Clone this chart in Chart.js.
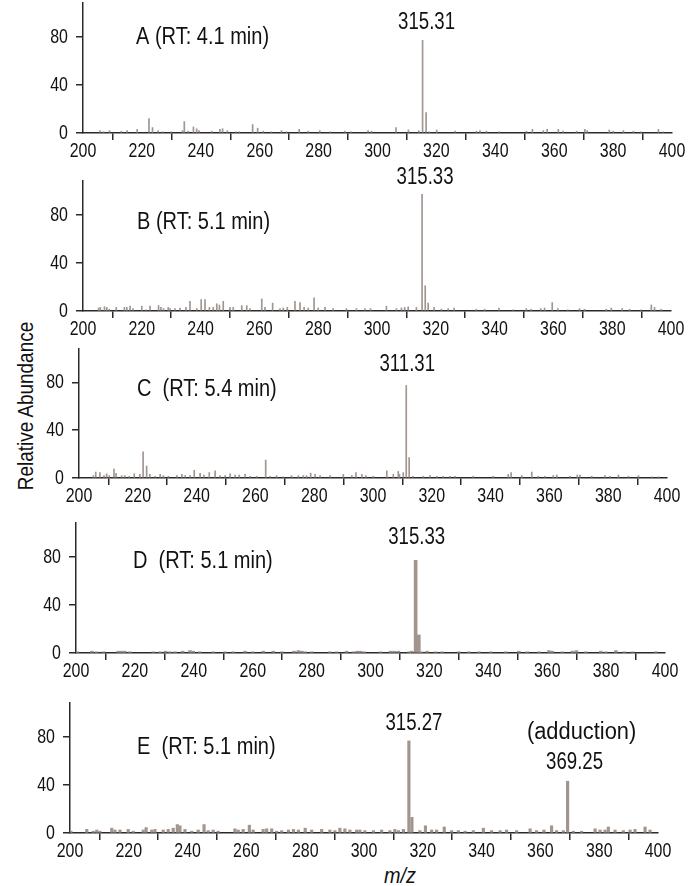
<!DOCTYPE html>
<html>
<head>
<meta charset="utf-8">
<script src="https://cdn.jsdelivr.net/npm/chart.js@4.4.1/dist/chart.umd.min.js"></script>
<style>
  html, body { margin: 0; padding: 0; background: #fff; }
  body { width: 696px; height: 886px; position: relative; overflow: hidden; }
  canvas { position: absolute; left: 0; }
  .axis-title {
    position: absolute; color: #111; white-space: nowrap;
    font-family: 'Liberation Sans', Arial, sans-serif;
    font-size: 22px; line-height: 1;
  }
  #ytitle { left: 26px; top: 406px; transform: translate(-50%, -50%) rotate(-90deg) scaleX(0.86); }
  #xtitle { left: 400px; top: 876px; transform: translate(-50%, -50%) scaleX(0.9); font-style: italic; }
</style>
</head>
<body>
<div id="ytitle" class="axis-title">Relative Abundance</div>
<div id="xtitle" class="axis-title">m/z</div>
<script>
const FONT = "'Liberation Sans', Arial, sans-serif";
const INK = '#111';
const AXIS = '#2a2a2a';
const BAR = '#a1958e';

const mzMin = 200, mzMax = 400, mzStep = 20;
const yTicks = [0, 40, 80];
const yMax = 108;

// [m/z, relative abundance]
const baseA = [315.31, 77];
const peaksA = [
  [205.8, 2], [207, 1], [209, 2], [213, 1.5], [215, 2], [218.4, 3], [222.4, 12], [223.6, 4.5],
  [225.5, 2], [227, 1], [230, 1], [233.8, 2], [234.4, 9.5], [235.7, 1.5], [237.5, 5], [238.6, 3.5],
  [239.4, 2], [243.7, 1.5], [246.5, 3], [247.4, 3.5], [249, 2], [251.9, 1], [253, 1], [257.6, 7],
  [259.3, 4], [261.2, 1.5], [264, 1], [267.4, 2], [269.1, 1], [273.4, 3], [276.5, 1.5], [280.4, 2],
  [284, 1], [288.9, 1.5], [291, 1], [296.8, 2], [298, 1.5], [306.3, 4.5], [310.5, 2.5], [314, 2],
  baseA, [316.5, 17], [317.6, 1], [320.1, 2.5], [326.3, 1.5], [333.6, 1.5], [334.8, 2], [337, 1.5],
  [341.3, 1], [350.6, 1.5], [352.6, 3], [356.3, 2], [357.6, 3], [361.4, 3], [363, 1.5], [367.6, 1.5],
  [370.4, 3], [371.2, 2], [378.7, 2.5], [380.1, 1.5], [383.5, 2], [386.9, 1.5], [389.5, 1], [395.4, 3],
  [397, 1]
];

const baseB = [315.33, 97];
const peaksB = [
  [205.3, 2.5], [205.9, 3], [207.3, 3.5], [208.1, 3], [209, 1.5], [211.3, 3], [214.1, 3], [214.9, 3],
  [216, 4], [217, 2], [220, 4], [221.4, 1], [222.8, 4], [225.7, 4.5], [226.5, 3], [227.4, 2],
  [229, 3], [229.6, 2], [231.3, 2], [233, 2.5], [235, 3], [236.4, 8], [238.7, 2], [240.2, 9.5],
  [241.5, 9.5], [243, 3], [244.3, 3], [245.5, 6], [246.4, 5], [247.7, 8], [250, 3], [251.1, 3],
  [254, 4.5], [255.7, 4.5], [256.8, 2], [260.8, 10], [261.9, 3], [264.5, 6.5], [267, 2], [268.1, 2.5],
  [269.5, 3], [272.1, 8], [273.8, 7], [275.2, 3], [276.6, 2.5], [278.6, 11], [280, 2.5], [282.3, 3],
  [285.1, 2], [289.6, 2], [293, 2], [295.9, 2], [297.8, 2], [303.2, 4], [306.6, 2], [308.3, 2.5],
  [309.4, 3], [310.6, 3.5], [313.4, 3], baseB, [316.4, 21], [317.4, 6.5], [319.4, 3], [321.9, 1.5],
  [324.2, 2], [326.2, 2.5], [333.8, 1.5], [336.6, 1.5], [341.5, 2.5], [346.3, 1], [350.8, 2], [352.5, 1.5],
  [355.7, 2], [357, 2.5], [359.6, 7], [361.5, 2], [364.9, 1], [368.9, 2], [370.6, 1.5], [378, 1.5],
  [379.7, 2.5], [383.4, 2], [385.9, 1.5], [389.9, 1], [393.3, 5], [394.4, 3], [396.7, 1.5]
];

const baseC = [311.31, 77.5];
const peaksC = [
  [204.9, 2], [205.7, 5], [207.1, 4.5], [208.5, 2], [209.4, 3.5], [210.3, 2], [211.9, 7.5], [212.6, 4],
  [214.5, 2], [215.6, 2], [217.1, 1.5], [218.8, 3.5], [220.7, 3], [221.8, 22], [223, 10], [224.1, 3],
  [225.9, 1.5], [227.6, 3], [228.7, 2], [230.4, 1.5], [233.3, 2], [235, 3], [236.1, 2], [237.8, 2],
  [239.2, 6.5], [241.2, 4], [242.5, 2.5], [244.3, 4.5], [246.3, 6], [248, 2], [249.7, 2], [251.4, 3.5],
  [253.1, 2.5], [254.5, 2.5], [256.5, 3], [258.2, 1.5], [260.4, 1.5], [263.5, 15], [265, 1.5], [267.2, 2],
  [269.5, 1], [272.3, 2], [274.6, 2], [276.3, 2], [277.4, 2], [278.8, 4], [280.3, 3], [282, 2],
  [285.4, 2], [289.9, 3], [292.8, 2], [294.2, 4.5], [296.2, 3], [297.6, 2], [300.1, 1.5], [304.7, 6],
  [306.9, 3], [308.6, 5.5], [309, 3], [310.3, 4.5], baseC, [312.3, 17], [313.6, 1.5], [317.1, 1.5],
  [319.4, 2], [321.7, 1.5], [323.9, 1.5], [326.2, 1.5], [327.9, 1.5], [334.1, 1.5], [340.9, 1.5], [346, 3],
  [347, 4.5], [350.6, 2], [354, 5], [356.2, 1.5], [358.5, 1.5], [361.3, 2], [362.5, 2.5], [367, 1.5],
  [369.5, 2.5], [370.4, 2.5], [374.4, 1.5], [378.9, 2], [380.6, 1.5], [383.5, 2.5], [386.9, 1.5], [390.3, 2],
  [394.8, 1], [397.1, 1]
];

const baseD = [315.33, 77];
const peaksD = [
  [200.5, 1], [205.4, 1.5], [207, 1], [209.3, 1], [214.4, 1.5], [215.5, 1.5], [216.6, 1.5], [218.3, 1],
  [226.3, 1], [228.5, 1], [230.4, 1.5], [231.9, 1], [233.6, 1], [236.2, 1.5], [238.7, 2], [239.8, 1.5],
  [242.1, 1], [246.6, 1], [250.6, 1], [253.4, 1], [257.4, 1.5], [260, 1], [263.6, 1.5], [267, 1.5],
  [269.9, 1], [274, 1.5], [275.5, 2], [276.7, 1.5], [277.8, 1], [280, 1], [286.2, 1], [288.5, 1],
  [291.9, 1.5], [294.2, 1], [295.5, 1.5], [296.6, 1.5], [297.8, 1], [303.4, 1], [306.8, 1.5], [308, 1.5],
  [309.4, 1.5], [313.1, 1], [314, 1.5], baseD, [316.4, 15], [317.3, 1], [319.2, 1.5], [322.1, 1],
  [324.3, 1], [330, 1], [333.4, 1], [336.8, 1], [340.8, 1], [345.9, 1], [350.4, 1.5], [353.2, 1],
  [357.2, 1], [360.6, 2], [361.7, 1.5], [365.1, 1], [368.5, 1.5], [369.9, 2], [373.1, 1], [378.2, 1.5],
  [379.9, 1], [383.3, 2], [386.2, 1], [389, 1], [396.9, 1]
];

const baseE = [315.27, 76.5];
const adductE = [369.25, 43];
const peaksE = [
  [200.3, 1.5], [205.7, 3], [207.9, 1.5], [209.1, 2.5], [210.2, 1.5], [214.2, 4], [215.3, 2.5], [217, 2.5],
  [219.8, 3], [221.5, 1.5], [224.9, 2.5], [225.9, 4.5], [227.8, 2.5], [228.9, 3], [231.7, 2.5], [233.4, 3],
  [235.1, 4], [236.5, 7], [237.4, 6], [239.1, 3], [241.4, 1.5], [243.6, 2.5], [245.6, 7], [247, 2],
  [248.7, 2.5], [250.4, 1.5], [256.1, 3.5], [257.2, 2.5], [258.9, 3], [261, 6.5], [262.3, 2.5], [265.7, 3],
  [266.9, 3.5], [268.6, 3.5], [270.3, 1.5], [272, 2], [274.3, 2.5], [276, 3], [277.7, 2.5], [280, 4],
  [282.2, 2.5], [285.6, 3], [288.4, 2.5], [290.1, 2], [291.8, 4], [293.5, 3.5], [295.2, 2.5], [297.5, 2.5],
  [298.6, 2.5], [300.3, 2], [303.2, 2], [306, 2.5], [308.8, 2], [310.5, 3], [311.7, 2], [313.4, 3],
  baseE, [316.3, 13], [319, 2], [320.9, 6], [323, 2.5], [324.7, 2.5], [327.3, 5], [329.8, 2],
  [332.1, 2], [334.4, 1.5], [337.2, 2], [340.6, 4], [343.4, 2], [346.3, 2], [348.5, 2.5], [351.9, 2],
  [356.5, 3.5], [358.7, 2], [361.2, 2.5], [363.8, 6], [365.5, 2], [367.8, 2], adductE, [371.2, 1.5],
  [374, 1.5], [378.6, 3.5], [380.3, 2.5], [382, 2.5], [383.1, 5], [385.4, 2.5], [388.2, 2], [390.5, 2.5],
  [392.2, 3], [395.6, 5], [397.3, 2.5]
];

// layout of each stacked spectrum: plot area edges in page pixels
const panels = [
  { peaks: peaksA, bar: 1, area: { left: 83, top: 3, right: 672, bottom: 133 },
    title: 'A (RT: 4.1 min)', titleDx: 53, titleDy: 1,
    notes: [{ peak: baseA, dx: 4, dy: 18 }] },
  { peaks: peaksB, bar: 1, area: { left: 83, top: 181, right: 671, bottom: 311 },
    title: 'B (RT: 5.1 min)', titleDx: 54, titleDy: 8,
    notes: [{ peak: baseB, dx: 3, dy: 17 }] },
  { peaks: peaksC, bar: 1, area: { left: 79, top: 349, right: 667, bottom: 478 },
    title: 'C  (RT: 5.4 min)', titleDx: 58, titleDy: 7,
    notes: [{ peak: baseC, dx: 1, dy: 21 }] },
  { peaks: peaksD, bar: 3, area: { left: 76, top: 523, right: 665, bottom: 653 },
    title: 'D  (RT: 5.1 min)', titleDx: 57, titleDy: 5,
    notes: [{ peak: baseD, dx: 1, dy: 23 }] },
  { peaks: peaksE, bar: 2.5, area: { left: 70, top: 703, right: 658, bottom: 833 },
    title: 'E  (RT: 5.1 min)', titleDx: 67, titleDy: 11,
    notes: [{ peak: baseE, dx: 5, dy: 17 },
            { peak: adductE, dx: 7, dy: 19 },
            { peak: adductE, dx: 14, dy: 49, text: '(adduction)', sx: 0.95 }] }
];

const PAD_TOP = 40;
const X_AXIS_H = 40;

// the lettering is a condensed face; squeeze Liberation Sans horizontally
function squeezed(ctx, text, x, y, size, sx, align) {
  ctx.save();
  ctx.translate(x, y);
  ctx.scale(sx, 1);
  ctx.font = `${size}px ${FONT}`;
  ctx.textAlign = align;
  ctx.textBaseline = 'middle';
  ctx.fillText(text, 0, 0);
  ctx.restore();
}

const spectrumText = {
  id: 'spectrumText',
  afterDraw(chart, args, opts) {
    const { ctx, chartArea, scales: { x, y } } = chart;
    ctx.save();
    ctx.fillStyle = INK;
    // tick labels
    x.ticks.forEach(t => squeezed(ctx, String(t.value), x.getPixelForValue(t.value), chartArea.bottom + 18, 21, 0.76, 'center'));
    y.ticks.forEach(t => squeezed(ctx, String(t.value), chartArea.left - 15, y.getPixelForValue(t.value), 21, 0.76, 'right'));
    // panel title
    squeezed(ctx, opts.title, chartArea.left + opts.titleDx, y.getPixelForValue(80) + opts.titleDy, 23, 0.87, 'left');
    // peak annotations
    for (const n of opts.notes) {
      const [mz, ab] = n.peak;
      squeezed(ctx, n.text || mz.toFixed(2), x.getPixelForValue(mz) + n.dx, y.getPixelForValue(ab) - n.dy,
        23, n.sx || 0.81, 'center');
    }
    ctx.restore();
  }
};

panels.forEach(p => {
  const cv = document.createElement('canvas');
  const h = PAD_TOP + (p.area.bottom - p.area.top) + X_AXIS_H;
  cv.width = 696;
  cv.height = h;
  cv.style.top = (p.area.top - PAD_TOP) + 'px';
  document.body.appendChild(cv);

  new Chart(cv.getContext('2d'), {
    type: 'bar',
    data: {
      datasets: [{
        data: p.peaks.map(([mz, ab]) => ({ x: mz, y: ab })),
        backgroundColor: BAR,
        borderWidth: 0,
        barThickness: p.bar,
      }],
    },
    options: {
      responsive: false,
      animation: false,
      layout: { padding: { top: PAD_TOP, right: 696 - p.area.right, left: 0, bottom: 0 } },
      plugins: {
        legend: { display: false },
        tooltip: { enabled: false },
        spectrumText: { title: p.title, titleDx: p.titleDx, titleDy: p.titleDy, notes: p.notes },
      },
      scales: {
        x: {
          type: 'linear',
          min: mzMin,
          max: mzMax,
          offset: false,
          ticks: { display: false, stepSize: mzStep, autoSkip: false },
          grid: { drawOnChartArea: false, drawTicks: true, tickLength: 7, color: AXIS, lineWidth: 1.5 },
          border: { color: AXIS, width: 1.5 },
          afterFit: s => { s.height = X_AXIS_H; },
        },
        y: {
          min: 0,
          max: yMax,
          afterBuildTicks: s => { s.ticks = yTicks.map(v => ({ value: v })); },
          ticks: { display: false },
          grid: { drawOnChartArea: false, drawTicks: true, tickLength: 7, color: AXIS, lineWidth: 1.5 },
          border: { color: AXIS, width: 1.5 },
          afterFit: s => { s.width = p.area.left; },
        },
      },
    },
    plugins: [spectrumText],
  });
});
</script>
</body>
</html>
